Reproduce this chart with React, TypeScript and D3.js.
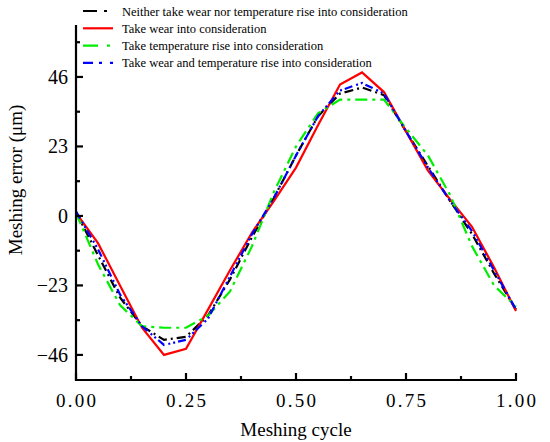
import { useRef, useEffect } from "react";
import * as d3 from "d3";

// meshing cycle sampled every 0.05
const cycle = [0, 0.05, 0.1, 0.15, 0.2, 0.25, 0.3, 0.35, 0.4, 0.45, 0.5, 0.55, 0.6, 0.65, 0.7, 0.75, 0.8, 0.85, 0.9, 0.95, 1.0];

const neither = [1.3, -13, -27, -36.5, -41, -40, -33, -21, -7, 6, 20, 33, 40.5, 42.5, 40, 28, 16.5, 5, -6, -19, -31];
const wear = [1, -9, -23, -37, -46, -44, -31, -18, -5.5, 5, 16, 30, 43.5, 47.5, 41, 28, 15, 5.5, -3.6, -17, -31.5];
const temperature = [1, -16, -29.5, -36.5, -37, -37, -33, -25, -10, 8, 23, 34, 38.5, 38.5, 38.5, 29, 20, 7, -10, -23, -30];
const both = [1.5, -11, -26, -36.5, -42.7, -41, -34, -20, -6, 6, 20, 33, 41.5, 44, 40.5, 28, 16, 5, -5, -18, -31];

const seriesNames = [
    "Neither take wear nor temperature rise into consideration",
    "Take wear into consideration",
    "Take temperature rise into consideration",
    "Take wear and temperature rise into consideration",
];
const seriesValues = [neither, wear, temperature, both];
const seriesColors = ["#000000", "#ff0000", "#00ee00", "#0000ff"];
const seriesDash = ["9,4,2,4", "none", "12,5,3,5", "8,4,2,3,2,3"];

const xMajor = [0, 0.25, 0.5, 0.75, 1];
const xMinor = [0.125, 0.375, 0.625, 0.875];
const xTickLabels = ["0.00", "0.25", "0.50", "0.75", "1.00"];
const yMajor = [-46, -23, 0, 23, 46];
const yMinor = [-34.5, -11.5, 11.5, 34.5, 57.5];

const App = () => {
    const svgRef = useRef(null);

    useEffect(() => {
        const svg = d3.select(svgRef.current);
        svg.selectAll("*").remove();

        const font = "'Liberation Serif', 'Times New Roman', serif";
        const x = d3.scaleLinear().domain([0, 1]).range([76, 516]);
        const y = d3.scaleLinear().domain([-54.3, 63.2]).range([380, 25]);

        // curves
        seriesValues.forEach((vals, i) => {
            const pts = cycle.map((c, k) => [c, vals[k]] as [number, number]);
            const line = d3.line<[number, number]>()
                .x(d => x(d[0]))
                .y(d => y(d[1]));
            svg.append("path")
                .datum(pts)
                .attr("fill", "none")
                .attr("stroke", seriesColors[i])
                .attr("stroke-width", 2.2)
                .attr("stroke-dasharray", seriesDash[i])
                .attr("stroke-linejoin", "miter")
                .attr("d", line);
        });

        // axes lines
        const axis = svg.append("g").attr("stroke", "#000").attr("stroke-width", 2.2);
        axis.append("line").attr("x1", x(0)).attr("x2", x(1) + 1).attr("y1", y(-54.3)).attr("y2", y(-54.3));
        axis.append("line").attr("x1", x(0)).attr("x2", x(0)).attr("y1", y(-54.3) + 1).attr("y2", y(63.2));

        xMajor.forEach(v => {
            axis.append("line").attr("x1", x(v)).attr("x2", x(v)).attr("y1", 380).attr("y2", 373);
        });
        xMinor.forEach(v => {
            axis.append("line").attr("x1", x(v)).attr("x2", x(v)).attr("y1", 380).attr("y2", 376);
        });
        yMajor.forEach(v => {
            axis.append("line").attr("x1", 76).attr("x2", 83).attr("y1", y(v)).attr("y2", y(v));
        });
        yMinor.forEach(v => {
            axis.append("line").attr("x1", 76).attr("x2", 80).attr("y1", y(v)).attr("y2", y(v));
        });

        // tick labels
        svg.append("g")
            .selectAll("text")
            .data(xMajor)
            .join("text")
            .attr("x", d => x(d))
            .attr("y", 407)
            .attr("text-anchor", "middle")
            .attr("font-family", font)
            .attr("font-size", 19)
            .attr("textLength", 40)
            .attr("lengthAdjust", "spacing")
            .text((d, i) => xTickLabels[i]);

        svg.append("g")
            .selectAll("text")
            .data(yMajor)
            .join("text")
            .attr("x", 68)
            .attr("y", d => y(d) + 7)
            .attr("text-anchor", "end")
            .attr("font-family", font)
            .attr("font-size", 20)
            .text(d => (d < 0 ? "\u2212" + Math.abs(d) : String(d)));

        // axis titles
        svg.append("text")
            .attr("x", 296)
            .attr("y", 436)
            .attr("text-anchor", "middle")
            .attr("font-family", font)
            .attr("font-size", 19)
            .text("Meshing cycle");

        svg.append("text")
            .attr("transform", "translate(22,180) rotate(-90)")
            .attr("text-anchor", "middle")
            .attr("font-family", font)
            .attr("font-size", 19)
            .text("Meshing error (\u03bcm)");

        // legend
        const legend = svg.append("g");
        seriesNames.forEach((name, i) => {
            const ly = 11 + i * 17.3;
            legend.append("line")
                .attr("x1", 83).attr("x2", 113)
                .attr("y1", ly).attr("y2", ly)
                .attr("stroke", seriesColors[i])
                .attr("stroke-width", 2.2)
                .attr("stroke-dasharray", i === 0 ? "14,7,3,7" : i === 2 ? "15,9,3,7" : i === 3 ? "10,6,3,8,3,7" : "none");
            legend.append("text")
                .attr("x", 122)
                .attr("y", ly + 4.5)
                .attr("font-family", font)
                .attr("font-size", 12.5)
                .text(name);
        });
    }, []);

    return (
        <svg ref={svgRef} width={550} height={442} style={{ position: "absolute", left: 0, top: 0, background: "#fff" }}></svg>
    );
};

export default App;
